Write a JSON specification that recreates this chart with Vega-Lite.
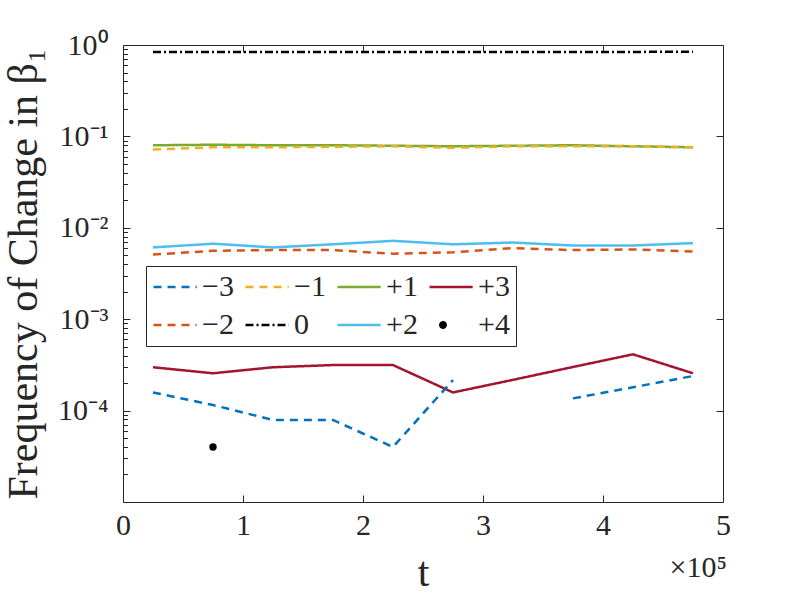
{
  "$schema": "https://vega.github.io/schema/vega-lite/v6.json",
  "autosize": {"type": "none"},
  "padding": {"left": 123, "top": 45, "right": 77, "bottom": 98},
  "width": 600,
  "height": 457,
  "background": "white",
  "datasets": {
    "freq": [
      {"t": 25000, "change": "0", "freq": 0.84},
      {"t": 75000, "change": "0", "freq": 0.84},
      {"t": 125000, "change": "0", "freq": 0.84},
      {"t": 175000, "change": "0", "freq": 0.84},
      {"t": 225000, "change": "0", "freq": 0.84},
      {"t": 275000, "change": "0", "freq": 0.84},
      {"t": 325000, "change": "0", "freq": 0.84},
      {"t": 375000, "change": "0", "freq": 0.84},
      {"t": 425000, "change": "0", "freq": 0.84},
      {"t": 475000, "change": "0", "freq": 0.845},
      {"t": 25000, "change": "+1", "freq": 0.080},
      {"t": 75000, "change": "+1", "freq": 0.081},
      {"t": 125000, "change": "+1", "freq": 0.080},
      {"t": 175000, "change": "+1", "freq": 0.080},
      {"t": 225000, "change": "+1", "freq": 0.079},
      {"t": 275000, "change": "+1", "freq": 0.078},
      {"t": 325000, "change": "+1", "freq": 0.079},
      {"t": 375000, "change": "+1", "freq": 0.080},
      {"t": 425000, "change": "+1", "freq": 0.078},
      {"t": 475000, "change": "+1", "freq": 0.076},
      {"t": 25000, "change": "-1", "freq": 0.072},
      {"t": 75000, "change": "-1", "freq": 0.076},
      {"t": 125000, "change": "-1", "freq": 0.076},
      {"t": 175000, "change": "-1", "freq": 0.077},
      {"t": 225000, "change": "-1", "freq": 0.078},
      {"t": 275000, "change": "-1", "freq": 0.075},
      {"t": 325000, "change": "-1", "freq": 0.078},
      {"t": 375000, "change": "-1", "freq": 0.078},
      {"t": 425000, "change": "-1", "freq": 0.078},
      {"t": 475000, "change": "-1", "freq": 0.076},
      {"t": 25000, "change": "+2", "freq": 0.0061},
      {"t": 75000, "change": "+2", "freq": 0.0067},
      {"t": 125000, "change": "+2", "freq": 0.0061},
      {"t": 175000, "change": "+2", "freq": 0.0066},
      {"t": 225000, "change": "+2", "freq": 0.0072},
      {"t": 275000, "change": "+2", "freq": 0.0066},
      {"t": 325000, "change": "+2", "freq": 0.0069},
      {"t": 375000, "change": "+2", "freq": 0.0064},
      {"t": 425000, "change": "+2", "freq": 0.0064},
      {"t": 475000, "change": "+2", "freq": 0.0068},
      {"t": 25000, "change": "-2", "freq": 0.0051},
      {"t": 75000, "change": "-2", "freq": 0.0056},
      {"t": 125000, "change": "-2", "freq": 0.0057},
      {"t": 175000, "change": "-2", "freq": 0.0057},
      {"t": 225000, "change": "-2", "freq": 0.0052},
      {"t": 275000, "change": "-2", "freq": 0.0054},
      {"t": 325000, "change": "-2", "freq": 0.0060},
      {"t": 375000, "change": "-2", "freq": 0.0057},
      {"t": 425000, "change": "-2", "freq": 0.0058},
      {"t": 475000, "change": "-2", "freq": 0.0055},
      {"t": 25000, "change": "+3", "freq": 0.000298},
      {"t": 75000, "change": "+3", "freq": 0.000256},
      {"t": 125000, "change": "+3", "freq": 0.000298},
      {"t": 175000, "change": "+3", "freq": 0.000315},
      {"t": 225000, "change": "+3", "freq": 0.000315},
      {"t": 275000, "change": "+3", "freq": 0.000158},
      {"t": 325000, "change": "+3", "freq": 0.000217},
      {"t": 375000, "change": "+3", "freq": 0.000300},
      {"t": 425000, "change": "+3", "freq": 0.000413},
      {"t": 475000, "change": "+3", "freq": 0.000256},
      {"t": 25000, "change": "-3", "freq": 0.000158},
      {"t": 75000, "change": "-3", "freq": 0.000115},
      {"t": 125000, "change": "-3", "freq": 0.000079},
      {"t": 175000, "change": "-3", "freq": 0.000079},
      {"t": 225000, "change": "-3", "freq": 0.000040},
      {"t": 275000, "change": "-3", "freq": 0.000216},
      {"t": 325000, "change": "-3", "freq": null},
      {"t": 375000, "change": "-3", "freq": 0.000136},
      {"t": 425000, "change": "-3", "freq": 0.000180},
      {"t": 475000, "change": "-3", "freq": 0.000239}
    ],
    "single": [
      {"t": 75000, "change": "+4", "freq": 0.000040}
    ]
  },
  "layer": [
    {
      "data": {"name": "freq"},
      "mark": {"type": "line", "strokeWidth": 2.5, "invalid": "break-paths-filter-domains"},
      "encoding": {
        "x": {
          "field": "t",
          "type": "quantitative",
          "scale": {"domain": [0, 500000], "nice": false, "zero": false},
          "axis": {
            "orient": "bottom",
            "values": [0, 100000, 200000, 300000, 400000, 500000],
            "labelExpr": "format(datum.value / 100000, 'd')",
            "offset": -7,
            "tickSize": 7,
            "domain": false,
            "labelPadding": 8,
            "labelFontSize": 30,
            "labelFlush": false,
            "labelOverlap": false,
            "title": "t",
            "titleFontSize": 42,
            "titlePadding": 12
          }
        },
        "y": {
          "field": "freq",
          "type": "quantitative",
          "scale": {"type": "log", "domain": [0.00001, 1], "nice": false},
          "axis": {
            "orient": "left",
            "values": [0.0001, 0.001, 0.01, 0.1, 1],
            "labelExpr": "datum.value == 1 ? '10⁰' : datum.value == 0.1 ? '10⁻¹' : datum.value == 0.01 ? '10⁻²' : datum.value == 0.001 ? '10⁻³' : '10⁻⁴'",
            "offset": -7,
            "tickSize": 7,
            "domain": false,
            "labelPadding": 15,
            "labelFontSize": 30,
            "labelOverlap": false,
            "labelFlush": false,
            "title": "Frequency of Change in β₁",
            "titleFontSize": 42,
            "titlePadding": 12
          }
        },
        "color": {
          "field": "change",
          "type": "nominal",
          "scale": {
            "domain": ["-3", "-1", "+1", "+3", "-2", "0", "+2", "+4"],
            "range": ["#0072BD", "#EDB120", "#77AC30", "#A2142F", "#D95319", "#000000", "#4DBEEE", "#000000"]
          },
          "legend": {"title": null, "labelExpr": "replace(datum.label, '-', '−')"}
        },
        "strokeDash": {
          "field": "change",
          "type": "nominal",
          "scale": {
            "domain": ["-3", "-1", "+1", "+3", "-2", "0", "+2", "+4"],
            "range": [[8, 6], [8, 6], [1, 0], [1, 0], [8, 6], [8, 3, 2, 3], [1, 0], [1, 0]]
          },
          "legend": {"title": null, "labelExpr": "replace(datum.label, '-', '−')"}
        }
      }
    },
    {
      "data": {"name": "single"},
      "mark": {"type": "point", "filled": true, "opacity": 1, "size": 729, "stroke": "black", "strokeWidth": 2},
      "encoding": {
        "x": {"field": "t", "type": "quantitative", "axis": null},
        "y": {"field": "freq", "type": "quantitative", "axis": null},
        "color": {"field": "change", "type": "nominal", "legend": {"title": null, "labelExpr": "replace(datum.label, '-', '−')"}},
        "shape": {
          "field": "change",
          "type": "nominal",
          "scale": {
            "domain": ["-3", "-1", "+1", "+3", "-2", "0", "+2", "+4"],
            "range": ["M-1,0L2.2,0", "M-1,0L2.2,0", "M-1,0L2.2,0", "M-1,0L2.2,0", "M-1,0L2.2,0", "M-1,0L2.2,0", "M-1,0L2.2,0", "M-0.2,0A0.2,0.2,0,1,0,0.2,0A0.2,0.2,0,1,0,-0.2,0Z"]
          },
          "legend": {"title": null, "labelExpr": "replace(datum.label, '-', '−')"}
        }
      }
    },
    {
      "data": {"name": "freq"},
      "mark": {"type": "point", "opacity": 0},
      "encoding": {
        "x": {"field": "t", "type": "quantitative", "axis": null},
        "y": {
          "field": "freq",
          "type": "quantitative",
          "axis": {
            "orient": "left",
            "values": [0.00002, 0.00003, 0.00004, 0.00005, 0.00006, 0.00007, 0.00008, 0.00009, 0.0002, 0.0003, 0.0004, 0.0005, 0.0006, 0.0007, 0.0008, 0.0009, 0.002, 0.003, 0.004, 0.005, 0.006, 0.007, 0.008, 0.009, 0.02, 0.03, 0.04, 0.05, 0.06, 0.07, 0.08, 0.09, 0.2, 0.3, 0.4, 0.5, 0.6, 0.7, 0.8, 0.9],
            "labels": false,
            "domain": false,
            "offset": -4.5,
            "tickSize": 4.5,
            "title": null
          }
        }
      }
    },
    {
      "data": {"name": "freq"},
      "mark": {"type": "point", "opacity": 0},
      "encoding": {
        "x": {
          "field": "t",
          "type": "quantitative",
          "axis": {
            "orient": "top",
            "values": [100000, 200000, 300000, 400000],
            "labels": false,
            "domain": false,
            "offset": -7,
            "tickSize": 7,
            "title": null
          }
        },
        "y": {
          "field": "freq",
          "type": "quantitative",
          "axis": {
            "orient": "right",
            "values": [0.0001, 0.001, 0.01, 0.1],
            "labels": false,
            "domain": false,
            "offset": -7,
            "tickSize": 7,
            "title": null
          }
        }
      }
    },
    {
      "data": {"values": [{}]},
      "mark": {"type": "text", "align": "right", "baseline": "middle", "dx": 4, "dy": 66, "fontSize": 30, "font": "Liberation Serif", "color": "#262626"},
      "encoding": {
        "x": {"datum": 500000, "type": "quantitative", "axis": null},
        "y": {"datum": 0.00001, "type": "quantitative", "axis": null},
        "text": {"value": "×10⁵"}
      }
    }
  ],
  "resolve": {"axis": {"x": "independent", "y": "independent"}},
  "config": {
    "view": {"stroke": "#262626", "strokeWidth": 1},
    "axis": {
      "grid": false,
      "domainColor": "#262626",
      "tickColor": "#262626",
      "labelColor": "#262626",
      "titleColor": "#262626",
      "labelFont": "Liberation Serif",
      "titleFont": "Liberation Serif",
      "titleFontWeight": "normal",
      "domainWidth": 1,
      "tickWidth": 1
    },
    "legend": {
      "orient": "none",
      "legendX": 23,
      "legendY": 221,
      "direction": "horizontal",
      "columns": 4,
      "symbolSize": 729,
      "symbolStrokeWidth": 2.5,
      "labelFont": "Liberation Serif",
      "labelFontSize": 30,
      "labelColor": "#262626",
      "labelOffset": 20,
      "columnPadding": 6,
      "rowPadding": 8,
      "padding": 6,
      "strokeColor": "#262626",
      "fillColor": "white"
    }
  }
}
